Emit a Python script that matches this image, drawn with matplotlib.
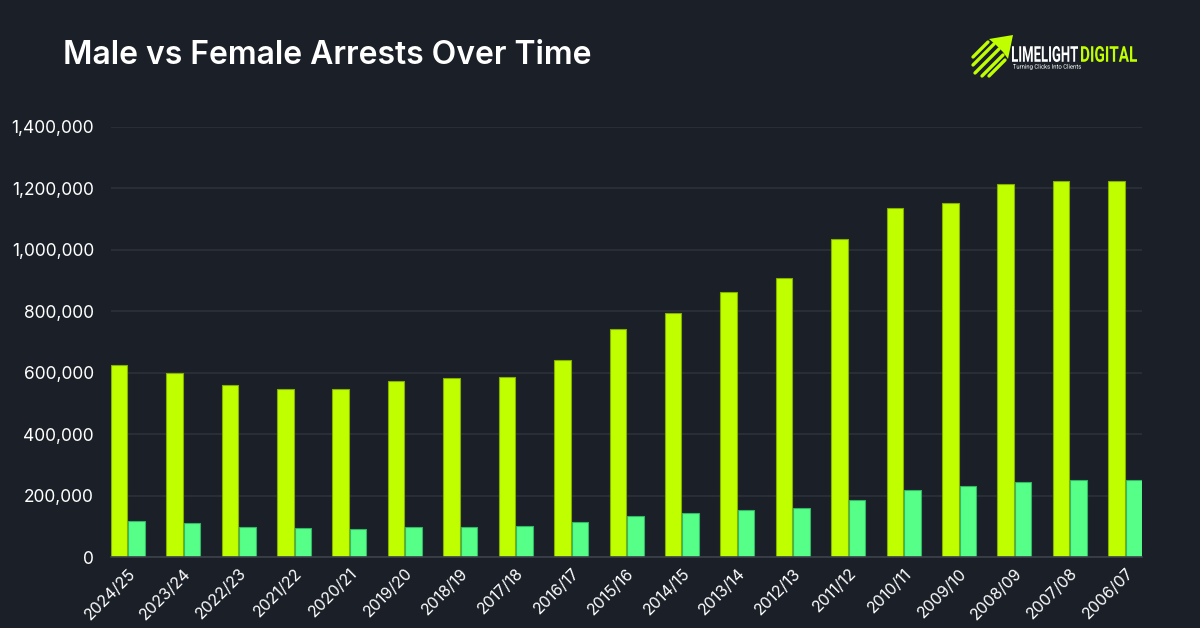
import matplotlib
matplotlib.use("Agg")
import matplotlib.pyplot as plt
import numpy as np
from matplotlib.ticker import FuncFormatter
from matplotlib.patches import Polygon, PathPatch
from matplotlib.textpath import TextPath
from matplotlib.font_manager import FontProperties
from matplotlib.transforms import Affine2D

years = ["2024/25", "2023/24", "2022/23", "2021/22", "2020/21", "2019/20", "2018/19",
         "2017/18", "2016/17", "2015/16", "2014/15", "2013/14", "2012/13", "2011/12",
         "2010/11", "2009/10", "2008/09", "2007/08", "2006/07"]
male = [627000, 601000, 562000, 546000, 546000, 574000, 582000, 588000, 642000,
        742000, 795000, 863000, 908000, 1036000, 1135000, 1153000, 1215000, 1224000, 1225000]
female = [119000, 112000, 99000, 94000, 93000, 97000, 98000, 101000, 114000,
          135000, 144000, 155000, 160000, 188000, 218000, 231000, 246000, 252000, 250000]
y_ticks = [0, 200000, 400000, 600000, 800000, 1000000, 1200000, 1400000]

BG = "#1a1f28"
MALE_C = "#bfff00"
FEMALE_C = "#55ff88"

plt.rcParams['font.family'] = ['Inter', 'DejaVu Sans']

W, H = 1200, 628
fig = plt.figure(figsize=(12, 6.28), dpi=100, facecolor=BG)
ax = fig.add_axes([0.0923, 0.1126, 0.8596, 0.6852])
ax.set_facecolor(BG)

x = np.arange(len(years))
bw = 0.298
off = 0.158
ax.bar(x - off, male, width=bw, color=MALE_C, edgecolor="#86b000", linewidth=0.8, zorder=3)
ax.bar(x + off, female, width=bw, color=FEMALE_C, edgecolor="#35b865", linewidth=0.8, zorder=3)

ax.set_xlim(-0.307, len(years) - 1 + 0.307)
ax.set_ylim(0, 1400000)
ax.set_yticks(y_ticks)
ax.yaxis.set_major_formatter(FuncFormatter(lambda v, p: f"{int(v):,}"))
ax.grid(axis='y', color="#2c313a", linewidth=1.2, zorder=0)
ax.set_axisbelow(True)
for s in ["top", "right", "left"]:
    ax.spines[s].set_visible(False)
ax.spines["bottom"].set_color("#3c414a")
ax.spines["bottom"].set_linewidth(1.2)
ax.spines["bottom"].set_zorder(4)

ax.set_xticks(x)
ax.set_xticklabels(years, rotation=45, ha='right', rotation_mode='anchor')
ax.tick_params(axis='x', length=0, pad=6, labelsize=11.5, labelcolor="white")
ax.tick_params(axis='y', length=0, pad=12, labelsize=12.5, labelcolor="white")

fig.text(63 / W, 1 - 56 / H, "Male vs Female Arrests Over Time", color="white",
         fontsize=23, fontweight="semibold", va="center", ha="left")

# Logo (text drawn as paths, squeezed to a condensed look)
pixel_to_fig = Affine2D().scale(1 / W, 1 / H) + fig.transFigure
logo_font = FontProperties(family="Roboto", weight="bold")
tag_font = FontProperties(family="Roboto", weight="normal")

def fitted_text(s, x0, x1, ytop, ybot, color, prop):
    tp = TextPath((0, 0), s, size=20, prop=prop)
    ext = tp.get_extents()
    sx = (x1 - x0) / ext.width
    sy = (ybot - ytop) / ext.height
    tr = Affine2D().translate(-ext.x0, -ext.y0).scale(sx, sy).translate(x0, H - ybot)
    path = tr.transform_path(tp)
    fig.patches.append(PathPatch(path, transform=pixel_to_fig, facecolor=color,
                                 edgecolor="none"))

fitted_text("LIMELIGHT", 1012, 1078, 46, 62, "white", logo_font)
fitted_text("DIGITAL", 1081, 1137, 46, 62, MALE_C, logo_font)
fitted_text("Turning Clicks Into Clients", 1013, 1081, 64, 70, "white", tag_font)

def fp(px, py):
    return (px / W, 1 - py / H)

head = Polygon([fp(1013, 35), fp(989, 39), fp(996, 45), fp(1003, 52), fp(1008, 59)],
               closed=True, transform=fig.transFigure, facecolor=MALE_C, edgecolor="none")
fig.patches.append(head)
streaks = [((975, 73), (999, 49)), ((982, 76), (1003, 55)), ((973, 65), (994, 44)),
           ((989, 76), (1005, 60)), ((973, 57), (988, 42))]
for (a, b) in streaks:
    fig.lines.append(plt.Line2D([a[0] / W, b[0] / W], [1 - a[1] / H, 1 - b[1] / H],
                                transform=fig.transFigure, color=MALE_C, linewidth=2.4,
                                solid_capstyle='round'))

fig.savefig("out.png", dpi=100, facecolor=BG)
